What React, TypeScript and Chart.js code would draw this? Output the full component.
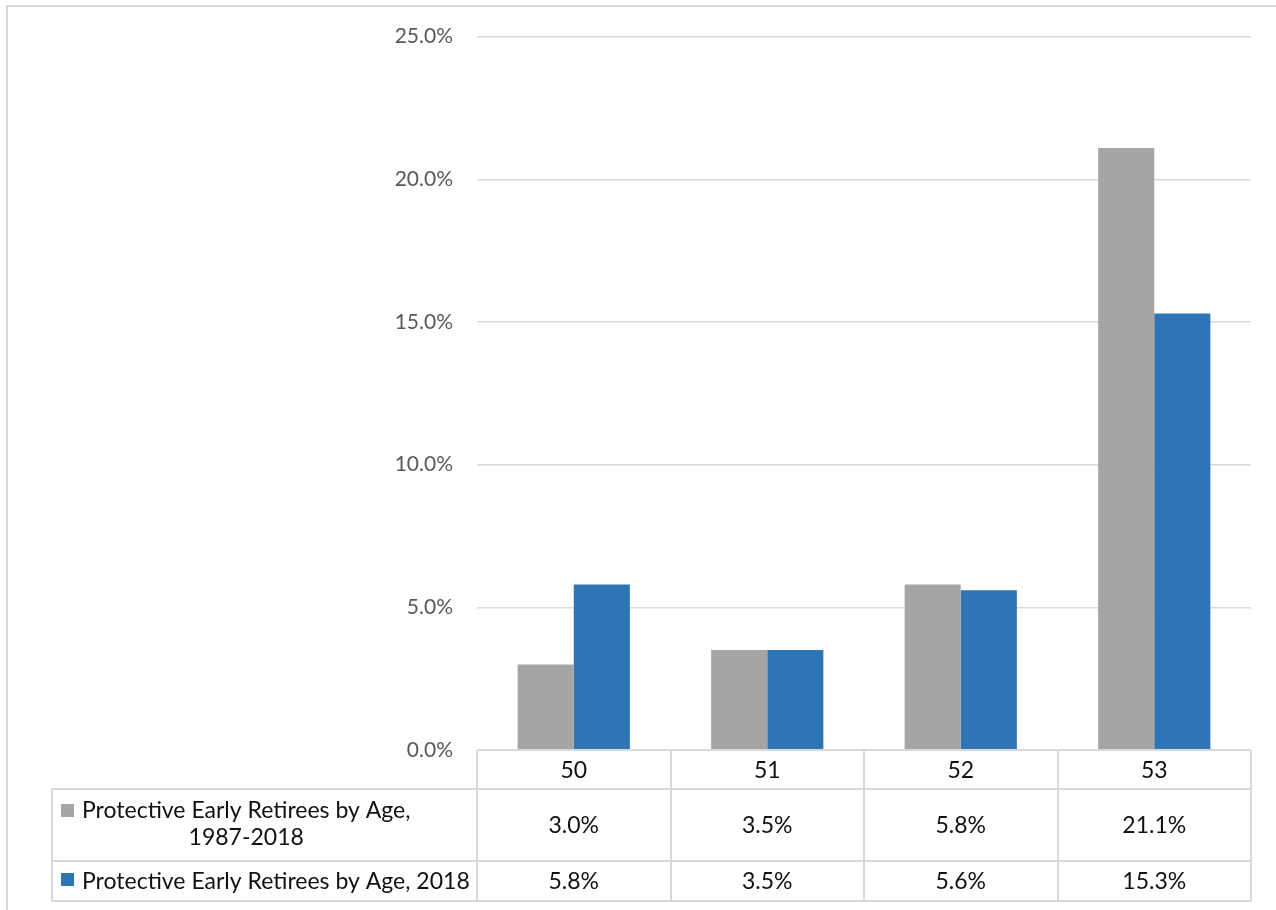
import React, { useEffect, useRef } from "react";
import { Chart, registerables } from "chart.js";

Chart.register(...registerables);

const categories = ["50", "51", "52", "53"];
const seriesNames = ["Protective Early Retirees by Age, 1987-2018", "Protective Early Retirees by Age, 2018"];
const legendLines = [["Protective Early Retirees by Age,", "1987-2018"], ["Protective Early Retirees by Age, 2018"]];
const series1987 = [3.0, 3.5, 5.8, 21.1];
const series2018 = [5.8, 3.5, 5.6, 15.3];
const tableLabels1987 = ["3.0%", "3.5%", "5.8%", "21.1%"];
const tableLabels2018 = ["5.8%", "3.5%", "5.6%", "15.3%"];
const colors = ["#A5A5A5", "#2E75B6"];

const FONT = "Lato, 'Noto Sans', sans-serif";
const GRID = "#D9D9D9";

const tablePlugin = {
  id: "dataTable",
  afterDraw(chart: any) {
    const ctx = chart.ctx;
    const xs = chart.scales.x;
    const area = chart.chartArea;
    const n = categories.length;
    const cw = (area.right - area.left) / n;
    const top = area.bottom;
    const r1 = top + 39;
    const r2 = r1 + 72;
    const r3 = r2 + 40;
    const legLeft = 52;
    ctx.save();
    // frame
    ctx.strokeStyle = GRID;
    ctx.lineWidth = 2;
    ctx.beginPath();
    ctx.moveTo(7, 2000);
    ctx.lineTo(7, 6);
    ctx.lineTo(2000, 6);
    ctx.stroke();

    // table lines
    ctx.lineWidth = 2;
    ctx.beginPath();
    for (let i = 0; i <= n; i++) {
      const x = Math.round(area.left + i * cw);
      ctx.moveTo(x, top);
      ctx.lineTo(x, r3);
    }
    ctx.moveTo(legLeft, r1);
    ctx.lineTo(legLeft, r3);
    ctx.moveTo(area.left, top);
    ctx.lineTo(area.right, top);
    for (const y of [r1, r2, r3]) {
      ctx.moveTo(legLeft, y);
      ctx.lineTo(area.right, y);
    }
    ctx.stroke();

    // header
    ctx.fillStyle = "#111111";
    ctx.font = `23px ${FONT}`;
    ctx.textAlign = "center";
    ctx.textBaseline = "middle";
    categories.forEach((c, i) => {
      const x = xs.getPixelForValue(i);
      ctx.fillText(c, x, (top + r1) / 2 + 1);
      ctx.fillText(tableLabels1987[i], x, (r1 + r2) / 2 + 1);
      ctx.fillText(tableLabels2018[i], x, (r2 + r3) / 2 + 1);
    });

    // legend cells
    const textX = 82;
    ctx.textAlign = "left";
    // row 1
    ctx.fillStyle = colors[0];
    ctx.fillRect(61, r1 + 15, 13, 13);
    ctx.fillStyle = "#111111";
    const l1 = legendLines[0][0];
    const w1 = ctx.measureText(l1).width;
    ctx.fillText(l1, textX, r1 + 22);
    ctx.textAlign = "center";
    ctx.fillText(legendLines[0][1], textX + w1 / 2, r1 + 49);
    // row 2
    ctx.textAlign = "left";
    ctx.fillStyle = colors[1];
    ctx.fillRect(61, r2 + 12, 13, 13);
    ctx.fillStyle = "#111111";
    ctx.fillText(legendLines[1][0], textX, (r2 + r3) / 2 + 1);
    ctx.restore();
  },
};

export default function App() {
  const ref = useRef<HTMLCanvasElement>(null);
  useEffect(() => {
    document.body.style.margin = "0";
    const chart = new Chart(ref.current!, {
      type: "bar",
      data: {
        labels: categories,
        datasets: [
          { label: seriesNames[0], data: series1987, backgroundColor: colors[0], categoryPercentage: 0.58, barPercentage: 1 },
          { label: seriesNames[1], data: series2018, backgroundColor: colors[1], categoryPercentage: 0.58, barPercentage: 1 },
        ],
      },
      options: {
        responsive: false,
        animation: false,
        layout: { padding: { top: 36, right: 25, bottom: 160, left: 0 } },
        plugins: { legend: { display: false }, tooltip: { enabled: false } },
        scales: {
          x: { display: false },
          y: {
            min: 0,
            max: 25,
            border: { display: false },
            grid: { color: GRID, lineWidth: 1.5, drawTicks: false },
            ticks: {
              stepSize: 5,
              padding: 24,
              color: "#595959",
              font: { family: FONT, size: 21 },
              callback: (v: any) => Number(v).toFixed(1) + "%",
            },
            afterFit: (s: any) => {
              s.width = 477;
            },
          },
        },
      },
      plugins: [tablePlugin],
    });
    return () => chart.destroy();
  }, []);
  return (
    <div style={{ position: "absolute", left: 0, top: 0, width: 1276, height: 910, background: "#fff" }}>
      <canvas ref={ref} width={1276} height={910} />
    </div>
  );
}
